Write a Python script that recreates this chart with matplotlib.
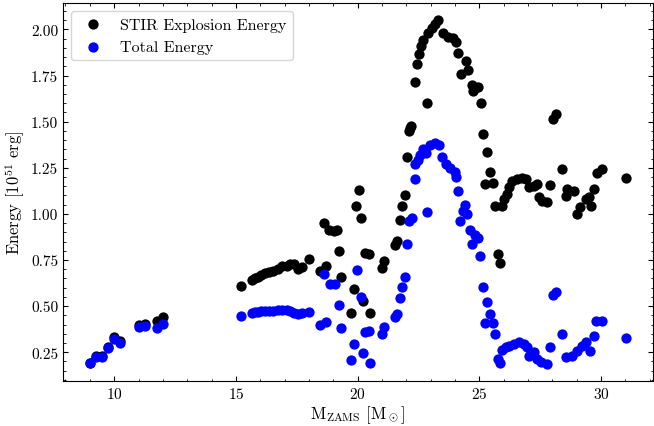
import matplotlib
matplotlib.use("Agg")
import matplotlib.pyplot as plt
from matplotlib.ticker import MultipleLocator

plt.rcParams.update({
    "font.family": "serif",
    "font.serif": ["cmr10", "DejaVu Serif"],
    "mathtext.fontset": "cm",
    "axes.formatter.use_mathtext": True,
    "font.size": 11,
})

mass_stir = [9.0, 9.25, 9.5, 9.75, 10.0, 10.25, 11.0, 11.25, 11.75, 12.0,
             15.2, 15.66, 15.77, 15.90, 16.04, 16.20, 16.37, 16.54, 16.72, 16.88,
             17.09, 17.23, 17.40, 17.57, 17.70, 18.00,
             18.47, 18.63, 18.70, 18.81, 19.02, 19.15, 19.22, 19.33, 19.72, 19.84,
             19.93, 20.04, 20.14, 20.20, 20.32, 20.45, 20.52,
             21.02, 21.10, 21.52, 21.61, 21.72, 21.82, 21.93, 22.02, 22.09, 22.15,
             22.20, 22.34, 22.43, 22.53, 22.61, 22.70, 22.84, 22.91, 23.04, 23.18,
             23.32, 23.52, 23.73, 23.93, 24.03, 24.14, 24.25, 24.44, 24.55, 24.69,
             24.75, 24.83, 24.96, 25.07, 25.14, 25.33, 25.43, 25.23, 25.55, 25.64,
             25.91, 25.78, 25.85, 26.02, 26.13, 26.22, 26.36, 26.56, 26.77, 26.90,
             27.04, 27.25, 27.35, 27.45, 27.59, 27.79, 27.90, 28.04, 28.13, 28.40,
             28.54, 28.61, 28.88, 28.99, 29.15, 29.36, 29.50, 29.59, 29.70, 29.84,
             30.04, 31.03]
e_stir = [0.19, 0.23, 0.23, 0.28, 0.33, 0.31, 0.40, 0.405, 0.42, 0.44,
          0.61, 0.64, 0.65, 0.66, 0.67, 0.68, 0.685, 0.69, 0.70, 0.715,
          0.72, 0.73, 0.73, 0.70, 0.71, 0.755,
          0.69, 0.95, 0.72, 0.91, 0.905, 0.91, 0.80, 0.655, 0.465, 0.59,
          1.04, 1.13, 0.98, 0.525, 0.79, 0.78, 0.46,
          0.705, 0.745, 0.83, 0.855, 0.965, 1.04, 1.10, 1.31, 1.45, 1.465,
          1.475, 1.715, 1.81, 1.865, 1.91, 1.945, 1.60, 1.98, 2.01, 2.03,
          2.05, 1.98, 1.96, 1.955, 1.93, 1.87, 1.76, 1.83, 1.78, 1.70,
          1.665, 1.685, 1.69, 1.60, 1.435, 1.335, 1.225, 1.16, 1.17, 1.04,
          1.04, 0.78, 0.735, 1.08, 1.107, 1.143, 1.18, 1.188, 1.197, 1.188,
          1.143, 1.152, 1.161, 1.089, 1.07, 1.062, 1.158, 1.513, 1.54, 1.242,
          1.098, 1.134, 1.125, 1.0, 1.035, 1.08, 1.089, 1.044, 1.134, 1.224,
          1.242, 1.194]

mass_total = [9.0, 9.25, 9.5, 9.75, 10.0, 10.25, 11.0, 11.25, 11.75, 12.0,
              15.2, 15.66, 15.77, 15.90, 16.04, 16.20, 16.37, 16.54, 16.72, 16.88,
              17.09, 17.23, 17.40, 17.57, 17.70, 18.00,
              18.47, 18.61, 18.70, 18.88, 19.08, 19.22, 19.33, 19.72, 19.84, 19.97,
              20.14, 20.20, 20.32, 20.45, 20.52,
              21.0, 21.07, 21.52, 21.61, 21.72, 21.82, 21.93, 22.02, 22.13, 22.23,
              22.34, 22.36, 22.47, 22.57, 22.70, 22.81, 22.98, 23.18, 23.35, 23.46,
              23.62, 23.80, 23.98, 24.03, 24.14, 24.20, 22.84, 24.32, 24.41, 24.51,
              24.61, 24.71, 24.80, 24.93, 25.02, 25.14, 25.33, 25.43, 25.23, 25.57,
              25.64, 25.78, 25.85, 25.95, 26.09, 26.22, 26.43, 26.63, 26.84, 26.97,
              27.04, 27.25, 27.38, 27.52, 27.79, 27.90, 28.04, 28.13, 28.40, 28.54,
              28.81, 29.02, 29.22, 29.36, 29.56, 29.70, 29.77, 30.04, 31.03]
e_total = [0.19, 0.225, 0.225, 0.275, 0.32, 0.30, 0.385, 0.39, 0.38, 0.405,
           0.445, 0.465, 0.47, 0.47, 0.475, 0.475, 0.475, 0.475, 0.48, 0.48,
           0.48, 0.475, 0.465, 0.455, 0.465, 0.47,
           0.40, 0.675, 0.415, 0.62, 0.62, 0.505, 0.38, 0.21, 0.295, 0.695,
           0.55, 0.245, 0.36, 0.365, 0.19,
           0.35, 0.385, 0.44, 0.455, 0.545, 0.605, 0.66, 0.835, 0.96, 0.975,
           1.19, 1.27, 1.29, 1.32, 1.35, 1.33, 1.375, 1.385, 1.375, 1.31,
           1.27, 1.25, 1.225, 1.20, 1.125, 0.96, 1.01, 1.015, 1.05, 1.0,
           0.91, 0.835, 0.885, 0.87, 0.77, 0.605, 0.52, 0.455, 0.41, 0.41,
           0.35, 0.214, 0.19, 0.263, 0.277, 0.286, 0.295, 0.304, 0.292, 0.277,
           0.232, 0.25, 0.214, 0.196, 0.187, 0.277, 0.562, 0.575, 0.35, 0.223,
           0.232, 0.259, 0.286, 0.304, 0.259, 0.34, 0.418, 0.418, 0.328]

fig = plt.figure(figsize=(6.54, 4.27), dpi=100)
ax = fig.add_axes([63/654, 45/427, 590/654, 378/427])

ax.scatter(mass_stir, e_stir, s=55, color="black", linewidths=0,
           label="STIR Explosion Energy", zorder=2)
ax.scatter(mass_total, e_total, s=55, color="blue", linewidths=0,
           label="Total Energy", zorder=3)

ax.set_xlabel(r"$\mathrm{M_{ZAMS}}$ $[\mathrm{M_\odot}]$", fontsize=12, labelpad=2)
ax.set_ylabel(r"Energy [$10^{51}$ erg]", fontsize=12, labelpad=3)

ax.xaxis.set_major_locator(MultipleLocator(5))
ax.xaxis.set_minor_locator(MultipleLocator(1))
ax.yaxis.set_major_locator(MultipleLocator(0.25))
ax.yaxis.set_minor_locator(MultipleLocator(0.05))
ax.yaxis.set_major_formatter(matplotlib.ticker.FormatStrFormatter("%.2f"))
ax.tick_params(which="both", direction="in", top=True, right=True)
ax.tick_params(which="major", length=3.5)
ax.tick_params(which="minor", length=1.8)

ax.legend(loc="upper left", fontsize=11.5, handletextpad=0.7, borderpad=0.4)

fig.savefig("out.png", dpi=100)
